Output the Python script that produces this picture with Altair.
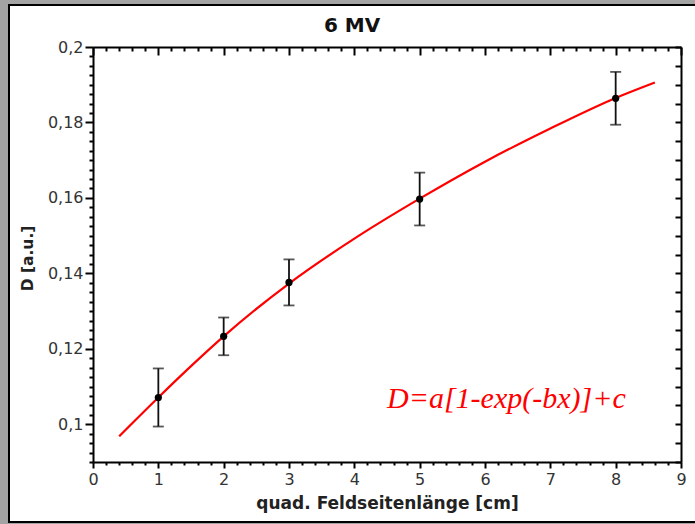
import altair as alt
import pandas as pd

x_meas = [1, 2, 3, 5, 8]
d_meas = [0.1071, 0.1233, 0.1376, 0.1597, 0.1864]
d_err = [0.0077, 0.0050, 0.0061, 0.0070, 0.0070]

# fitted curve D = a[1-exp(-bx)]+c
x_fit = [0.4, 1.0, 1.5, 2.0, 3.0, 4.0, 5.0, 6.0, 7.0, 8.0, 8.6]
d_fit = [0.0968, 0.1071, 0.1154, 0.1233, 0.1373, 0.1492, 0.1598, 0.1696, 0.1784, 0.1865, 0.1906]

title_text = "6 MV"
x_title = "quad. Feldseitenlänge [cm]"
y_title = "D [a.u.]"
formula = "D=a[1-exp(-bx)]+c"

meas = pd.DataFrame({
    "x": x_meas,
    "d": d_meas,
    "lo": [d - e for d, e in zip(d_meas, d_err)],
    "hi": [d + e for d, e in zip(d_meas, d_err)],
})
fit = pd.DataFrame({"x": x_fit, "d": d_fit})

W, H = 588, 415
xdom = [0, 9]
ydom = [0.09, 0.2]
x_ticks = [round(0.2 * i, 1) for i in range(46)]
y_ticks_left = [round(0.09 + 0.0025 * i, 4) for i in range(45)]
y_ticks_right = [round(0.09 + 0.005 * i, 4) for i in range(23)]

xs = alt.Scale(domain=xdom, nice=False, zero=False)
ys = alt.Scale(domain=ydom, nice=False, zero=False)

FONT = "DejaVu Sans"
x_major = "abs(datum.value - round(datum.value)) < 0.01"
y_major = "abs(datum.value*50 - round(datum.value*50)) < 0.01"

common = dict(domainColor="black", domainWidth=2, tickColor="black", tickWidth=2,
              grid=False, zindex=2, labelOverlap=False, labelFlush=False, labelBound=False)

x_bottom = alt.Axis(
    orient="bottom", values=x_ticks,
    tickSize={"condition": {"test": x_major, "value": 6}, "value": 3},
    labelExpr=f"{x_major} ? format(datum.value, 'd') : ''",
    labelFont=FONT, labelFontSize=16, labelColor="#333333", labelPadding=3,
    title=x_title, titleFont=FONT, titleFontSize=17, titleFontWeight="bold",
    titleColor="#222222", titleY=41, titleBaseline="middle", **common)

y_left = alt.Axis(
    orient="left", values=y_ticks_left,
    tickSize={"condition": {"test": y_major, "value": 8}, "value": 4},
    labelExpr=f"{y_major} ? replace(format(datum.value, '~g'), '.', ',') : ''",
    labelFont=FONT, labelFontSize=16, labelColor="#333333", labelPadding=2,
    title=y_title, titleFont=FONT, titleFontSize=15.5, titleFontWeight="bold",
    titleColor="#222222", titleX=-66, titleY=211, titleBaseline="middle",
    titleAlign="center", **common)

x_top = alt.Axis(
    orient="bottom", offset=-H, values=x_ticks,
    tickSize={"condition": {"test": x_major, "value": 8}, "value": 4},
    labels=False, title=None, **common)

y_right = alt.Axis(
    orient="left", offset=-W, values=y_ticks_right,
    tickSize=6, labels=False, title=None, **common)

frame = alt.Chart(pd.DataFrame({"k": [0]})).mark_rect(
    fill="white", stroke="black", strokeWidth=2
).encode(
    x=alt.value(-84), x2=alt.value(620), y=alt.value(-42), y2=alt.value(475)
)

curve = alt.Chart(fit).mark_line(color="#ff0000", strokeWidth=2.2, interpolate="monotone").encode(
    x=alt.X("x:Q", scale=xs, axis=x_bottom),
    y=alt.Y("d:Q", scale=ys, axis=y_left),
)

bars = alt.Chart(meas).mark_rule(color="#111111", strokeWidth=1.8).encode(
    x=alt.X("x:Q", scale=xs, axis=x_top),
    y=alt.Y("lo:Q", scale=ys, axis=y_right),
    y2="hi:Q",
)

caps_lo = alt.Chart(meas).mark_tick(color="#111111", orient="horizontal", size=11, thickness=1.8).encode(
    x=alt.X("x:Q", scale=xs, axis=None),
    y=alt.Y("lo:Q", scale=ys, axis=None),
)
caps_hi = alt.Chart(meas).mark_tick(color="#111111", orient="horizontal", size=11, thickness=1.8).encode(
    x=alt.X("x:Q", scale=xs, axis=None),
    y=alt.Y("hi:Q", scale=ys, axis=None),
)

pts = alt.Chart(meas).mark_circle(color="black", size=52, opacity=1).encode(
    x=alt.X("x:Q", scale=xs, axis=None),
    y=alt.Y("d:Q", scale=ys, axis=None),
)

label = alt.Chart(pd.DataFrame({"t": [formula]})).mark_text(
    font="Liberation Serif", fontStyle="italic", fontSize=30, color="#ff0000",
    align="left", baseline="alphabetic"
).encode(x=alt.value(294), y=alt.value(361), text="t:N")

title_mark = alt.Chart(pd.DataFrame({"t": [title_text]})).mark_text(
    font=FONT, fontWeight="bold", fontSize=20, color="#111111",
    align="center", baseline="alphabetic"
).encode(x=alt.value(259), y=alt.value(-15), text="t:N")

chart = alt.layer(frame, curve, bars, caps_lo, caps_hi, pts, label, title_mark).resolve_axis(
    x="independent", y="independent"
).properties(
    width=W, height=H,
    padding={"left": 93, "top": 47, "right": 14, "bottom": 62},
    autosize=alt.AutoSizeParams(type="none"),
).configure(background="#a4a4a4").configure_view(stroke=None)

chart.save("out.html", embed_options={"renderer": "svg", "actions": False})
